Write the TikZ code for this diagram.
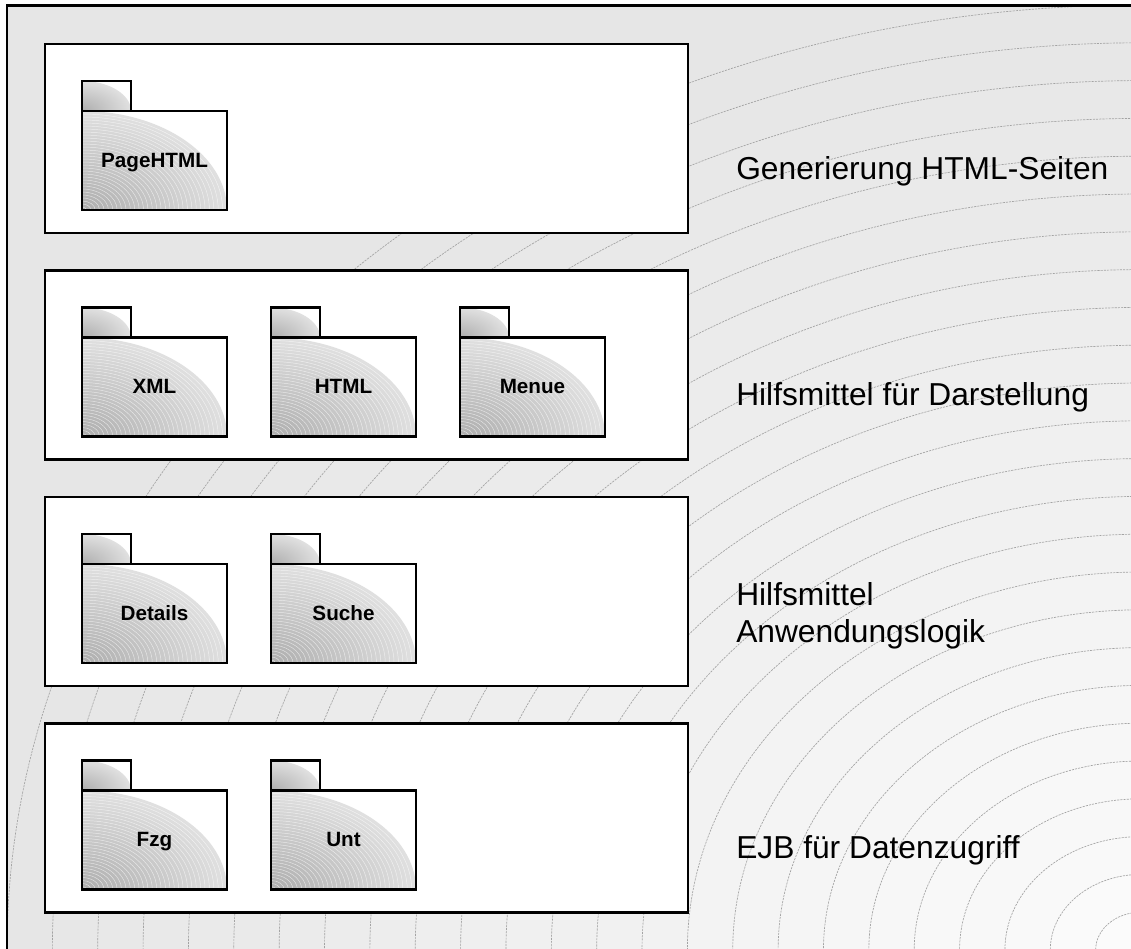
\documentclass[tikz,border=0pt]{standalone}
\usepackage{fontspec}
\setmainfont{Liberation Sans}

% UML package symbol: #1 node name, #2/#3 top-left corner of the tab, #4 label
\newcommand\umlpackage[4]{%
  \begin{scope}[shift={(#2,#3)}]
    \begin{scope}
      \clip (0,0) rectangle (49,30);
      \fill[white] (0,0) rectangle (49,30);
      \shade[pkgshade] (0,30) ellipse (49 and 30);
    \end{scope}
    \begin{scope}
      \clip (0,30) rectangle (145,129);
      \fill[white] (0,30) rectangle (145,129);
      \shade[pkgshade] (0,129) ellipse (145 and 99);
      \foreach \j in {3,6,...,96}{
        \draw[pkgring] (0,129) ellipse ({145*\j/99} and {\j});
      }
    \end{scope}
    \draw[pkgline] (0,30) |- (49,0) -- (49,30);
    \draw[pkgline] (0,30) rectangle (145,129);
    \node[pkglabel] (#1) at (72.5,86) {#4};
  \end{scope}}

\begin{document}
\begin{tikzpicture}[x=0.75pt,y=-0.75pt,
  layerbox/.style={draw=black, line width=2.1pt, fill=white},
  pkgline/.style={draw=black, line width=1.7pt, line join=miter},
  pkgshade/.style={inner color=black!32, outer color=black!12},
  pkgring/.style={draw=white, line width=0.35pt, opacity=0.6},
  ring/.style={draw=black!36, line width=0.5pt, dash pattern=on 1.6pt off 0.8pt},
  layerlabel/.style={font=\fontsize{23.8pt}{28.5pt}\selectfont, anchor=base west,
                     inner sep=0pt, align=left},
  pkglabel/.style={font=\bfseries\fontsize{15.5pt}{18pt}\selectfont, anchor=base,
                   inner sep=0pt}]
\useasboundingbox (0,0) rectangle (1131,949);
\clip (0,0) rectangle (1131,949);

% frame with elliptic gradient rings from the lower right corner
\fill[black!9.8] (7,5) rectangle (1141,950);
\foreach \k in {25,24,...,1}{
  \pgfmathsetmacro\p{1.2+8.6*\k/25}
  \fill[black!\p] (1141,950) ellipse ({45.36*\k} and {37.8*\k});
}
\foreach \k in {1,...,25}{
  \draw[ring] (1141,950) ellipse ({45.36*\k} and {37.8*\k});
}
\draw[line width=1.7pt] (7,960) -- (7,5.5) -- (1150,5.5);

% layers
\foreach \t in {44,270.5,497,723.5}{
  \draw[layerbox] (45,\t) rectangle (688,\t+189);
}

% layer 1
\umlpackage{pagehtml}{82}{81}{PageHTML}
\node[layerlabel] (l1) at (736,179) {Generierung HTML-Seiten};

% layer 2
\umlpackage{xml}{82}{307.5}{XML}
\umlpackage{html}{271}{307.5}{HTML}
\umlpackage{menue}{460}{307.5}{Menue}
\node[layerlabel] (l2) at (736,405.5) {Hilfsmittel f\"ur Darstellung};

% layer 3
\umlpackage{details}{82}{534}{Details}
\umlpackage{suche}{271}{534}{Suche}
\node[layerlabel] (l3a) at (736,605) {Hilfsmittel};
\node[layerlabel] (l3b) at (736,642) {Anwendungslogik};

% layer 4
\umlpackage{fzg}{82}{760.5}{Fzg}
\umlpackage{unt}{271}{760.5}{Unt}
\node[layerlabel] (l4) at (736,858.5) {EJB f\"ur Datenzugriff};
\end{tikzpicture}
\end{document}
